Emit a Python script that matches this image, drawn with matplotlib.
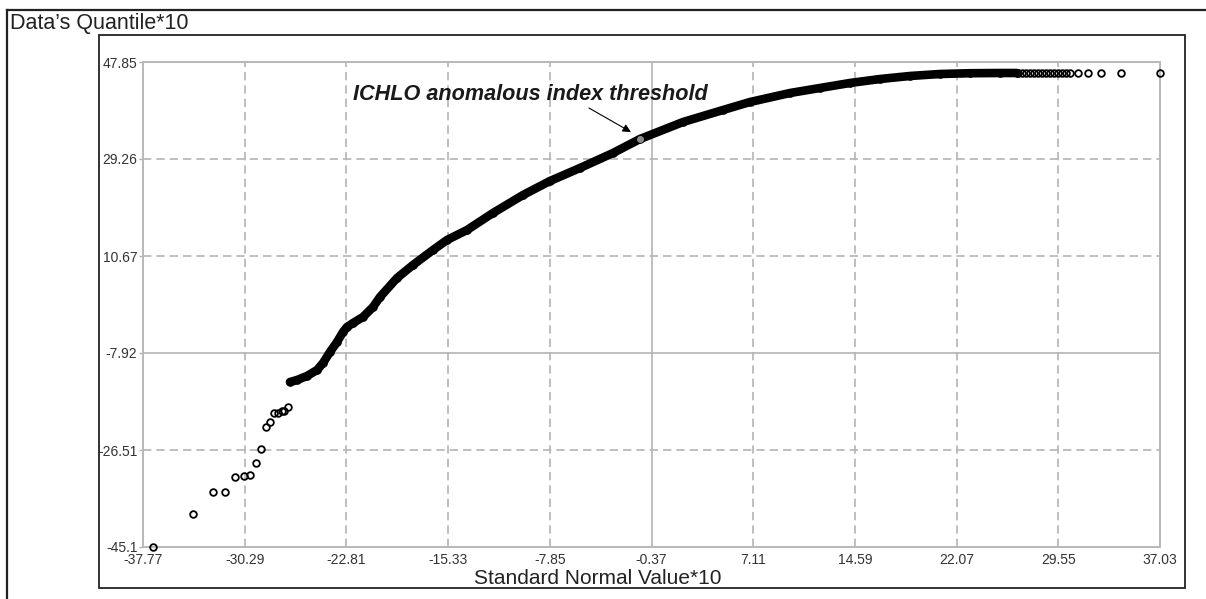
import matplotlib
matplotlib.use('Agg')
import matplotlib.pyplot as plt
from matplotlib.lines import Line2D
from matplotlib.patches import Rectangle

plt.rcParams['font.family'] = ['Liberation Sans', 'DejaVu Sans']

W, H = 1206, 599

# ---- axis ticks ----
x_ticks = [-37.77, -30.29, -22.81, -15.33, -7.85, -0.37, 7.11, 14.59, 22.07, 29.55, 37.03]
x_tick_labels = ['-37.77', '-30.29', '-22.81', '-15.33', '-7.85', '-0.37', '7.11', '14.59', '22.07', '29.55', '37.03']
y_ticks = [-45.1, -26.51, -7.92, 10.67, 29.26, 47.85]
y_tick_labels = ['-45.1', '-26.51', '-7.92', '10.67', '29.26', '47.85']

# ---- data (standard normal value*10, data quantile*10) ----
# sparse lower tail
tail_x = [-37.03, -34.11, -32.64, -31.74, -31.00, -30.34, -29.88, -29.44, -29.07,
          -28.72, -28.41, -28.13, -27.86, -27.57, -27.38, -27.13]
tail_y = [-45.10, -38.72, -34.56, -34.56, -31.68, -31.43, -31.24, -29.06, -26.38,
          -22.04, -21.09, -19.48, -19.48, -18.98, -18.98, -18.21]
# dense body
body_x = [-26.96, -26.44, -25.71, -24.97, -24.53, -24.02, -23.50, -23.06, -22.77,
          -22.32, -21.59, -20.85, -20.34, -19.09, -17.91, -16.44, -15.41, -13.94,
          -12.03, -9.82, -7.84, -5.63, -3.20, -1.22, 1.95, 4.89, 6.87, 9.82, 12.02,
          14.23, 16.44, 18.64, 20.85, 23.06, 25.26, 26.51]
body_y = [-13.48, -13.09, -12.33, -11.18, -9.84, -7.73, -5.81, -3.89, -2.94,
          -2.17, -1.02, 0.90, 2.81, 6.45, 8.95, 11.82, 13.74, 15.65,
          18.91, 22.36, 25.04, 27.54, 30.41, 33.09, 36.35, 38.65, 40.18, 41.91, 42.87,
          43.83, 44.59, 45.17, 45.55, 45.70, 45.74, 45.74]
# sparse upper tail
upper_x = [26.59, 26.88, 27.18, 27.47, 27.77, 28.06, 28.36, 28.65, 28.94, 29.24,
           29.53, 29.83, 30.12, 30.42, 31.02, 31.76, 32.67, 34.14, 37.03]
upper_y = [45.70, 45.70, 45.70, 45.70, 45.70, 45.70, 45.70, 45.70, 45.70, 45.70,
           45.70, 45.70, 45.70, 45.70, 45.74, 45.74, 45.74, 45.74, 45.74]
# anomalous index threshold point
threshold_x = [-1.22]
threshold_y = [33.09]

fig = plt.figure(figsize=(W / 100, H / 100), dpi=100)


def fx(p):
    return p / W


def fy(p):
    return 1 - p / H


ax = fig.add_axes([fx(143), fy(547), (1160 - 143) / W, (547 - 62) / H])
ax.set_xlim(x_ticks[0], x_ticks[-1])
ax.set_ylim(y_ticks[0], y_ticks[-1])

# grid
for xv in x_ticks[1:-1]:
    solid = (xv == -0.37)
    ax.axvline(xv, color='#b4b4b4', lw=1.2,
               linestyle='-' if solid else (0, (5, 3)), zorder=1)
for yv in y_ticks[1:-1]:
    solid = (yv == -7.92)
    ax.axhline(yv, color='#b4b4b4', lw=1.2,
               linestyle='-' if solid else (0, (5, 3)), zorder=1)

for s in ax.spines.values():
    s.set_color('#b8b8b8')
    s.set_linewidth(1.4)

ax.set_xticks(x_ticks)
ax.set_xticklabels(x_tick_labels)
ax.set_yticks(y_ticks)
ax.set_yticklabels(y_tick_labels)
ax.tick_params(axis='x', length=0, pad=4, labelsize=10, labelcolor='#333333')
ax.tick_params(axis='y', length=3, width=1, color='#b0b0b0', pad=1,
               labelsize=10, labelcolor='#333333')

# data
ax.plot(body_x, body_y, color='black', lw=6.2, solid_capstyle='round',
        solid_joinstyle='round', zorder=3)
ax.plot(body_x, body_y, 'o', mfc='none', mec='black', ms=5, mew=1.2, zorder=3)
ax.plot(tail_x, tail_y, 'o', mfc='none', mec='black', ms=4.8, mew=1.3, zorder=4,
        clip_on=False)
ax.plot(upper_x, upper_y, 'o', mfc='none', mec='black', ms=4.8, mew=1.3, zorder=4,
        clip_on=False)
ax.plot(threshold_x, threshold_y, 'o', color='#8c8c8c', ms=4, zorder=5)

# annotation
ax.text(-22.32, 41.53, 'ICHLO anomalous index threshold', fontsize=15.6,
        fontweight='bold', fontstyle='italic', ha='left', va='center',
        color='#1a1a1a', zorder=6)
ax.annotate('', xy=(-1.88, 34.43), xytext=(-4.97, 39.03),
            arrowprops=dict(arrowstyle='-|>', color='black', lw=0.8,
                            mutation_scale=12, shrinkA=0, shrinkB=0), zorder=6)

# frames
fig.add_artist(Line2D([fx(7), fx(7)], [fy(10), 0], transform=fig.transFigure,
                      color='#222222', lw=1.6))
fig.add_artist(Line2D([fx(7), 1], [fy(10), fy(10)], transform=fig.transFigure,
                      color='#222222', lw=1.6))
fig.add_artist(Rectangle((fx(99), fy(588)), (1185 - 99) / W, (588 - 35) / H,
                         transform=fig.transFigure, fill=False, ec='#222222', lw=1.3))

fig.text(fx(10), fy(23), 'Data\u2019s Quantile*10', fontsize=15.5, ha='left', va='center',
         color='#222222')
fig.text(fx(598), fy(583.5), 'Standard Normal Value*10', fontsize=15, ha='center',
         va='baseline', color='#222222')

fig.savefig('out.png', dpi=100)
